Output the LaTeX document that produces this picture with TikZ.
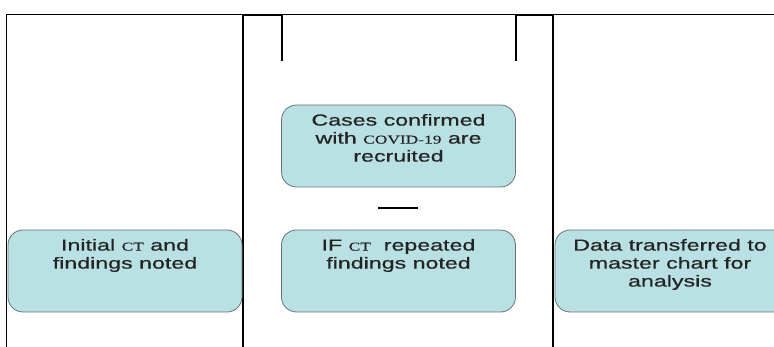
\documentclass[tikz,border=0pt]{standalone}
\usepackage{fontspec}
\setmainfont{Liberation Sans}[FakeStretch=1.45,FakeBold=0.6]
\newfontfamily\tms{Liberation Serif}[FakeStretch=1.45,FakeBold=0.3]
\definecolor{boxfill}{RGB}{185,224,227}
\definecolor{boxline}{RGB}{105,115,116}
\definecolor{txt}{RGB}{35,35,35}
\newcommand{\sm}[1]{{\tms\fontsize{12}{18}\selectfont #1}}
\tikzset{
  flowbox/.style={draw=boxline, line width=0.8pt, fill=boxfill, rounded corners=15pt,
    minimum width=234pt, minimum height=82pt, inner sep=0pt, text=txt,
    font=\fontsize{16}{18}\selectfont},
  lane/.style={line width=2.6pt, black},
  frame/.style={line width=0.8pt, black},
}
\newcommand{\boxtext}[2]{\parbox[c][82pt][t]{#1}{\centering\vspace*{8pt}\strut #2}}
\begin{document}
\begin{tikzpicture}[x=1pt,y=-1pt]
\useasboundingbox (0,0) rectangle (774,347);
\clip (0,0) rectangle (774,347);
% frame
\coordinate (fl) at (6,347);
\coordinate (ft) at (6,14);
\coordinate (fr) at (774,14);
\draw[frame] (fl) -- (ft) -- (fr);
% lanes
\coordinate (l1b) at (243,347);
\coordinate (l1t) at (243,15);
\coordinate (s1t) at (282,15);
\coordinate (s1b) at (282,61);
\coordinate (l2b) at (553,347);
\coordinate (l2t) at (553,15);
\coordinate (s2t) at (516,15);
\coordinate (s2b) at (516,61);
\draw[lane] (l1b) -- (l1t) -- (s1t) -- (s1b);
\draw[lane] (l2b) -- (l2t) -- (s2t) -- (s2b);
% boxes
\node[flowbox] (b1) at (398.5,146) {\boxtext{232pt}{Cases confirmed\\ with \sm{COVID-19} are\\ recruited}};
\node[flowbox] (b2) at (398.5,271) {\boxtext{232pt}{IF \sm{CT}\ \ repeated\\ findings noted}};
\node[flowbox] (b0) at (125,271) {\boxtext{232pt}{Initial \sm{CT} and\\ findings noted}};
\node[flowbox] (b3) at (672,271) {\boxtext{232pt}{\hspace*{-4pt}Data transferred to\\ \hspace*{-4pt}master chart for\\ \hspace*{-4pt}analysis}};
% dash between boxes
\coordinate (d1) at (378,208);
\coordinate (d2) at (418,208);
\draw[line width=2pt] (d1) -- (d2);
\end{tikzpicture}
\end{document}
